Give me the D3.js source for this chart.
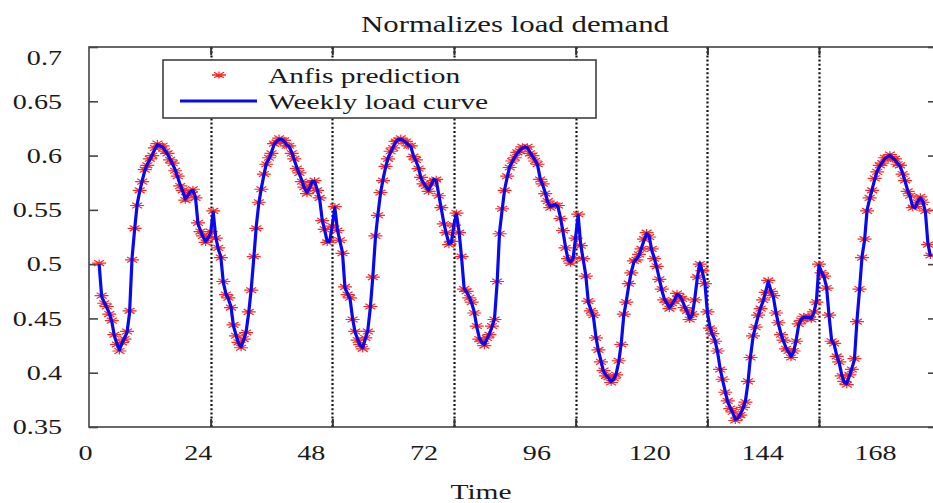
<!DOCTYPE html>
<html><head><meta charset="utf-8">
<script src="https://cdn.jsdelivr.net/npm/d3@7"></script>
<style>
body{margin:0;background:#fff}
svg{display:block}
text{font-family:"Liberation Serif","Times New Roman",serif;fill:#1a1a1a}
</style>
</head><body>
<svg id="c" width="933" height="503"></svg>
<script>
const title = "Normalizes load demand";
const xTitle = "Time";
const seriesNames = ["Anfis prediction", "Weekly load curve"];
const xTickLabels = [0, 24, 48, 72, 96, 120, 144, 168];
const yTicks = [0.35, 0.4, 0.45, 0.5, 0.55, 0.6, 0.65, 0.7];
const dayBoundaries = [24, 48, 72, 96, 122, 144];
const firstHour = 2;
const stepHours = 0.5;

const weeklyLoad = [
0.500,0.470,0.465,0.460,0.455,0.447,0.434,0.427,0.421,0.427,0.432,0.437,0.455,0.506,0.532,0.555,0.567,0.577,0.586,0.592,0.596,0.601,0.606,0.610,
0.609,0.608,0.605,0.601,0.597,0.592,0.587,0.580,0.573,0.567,0.560,0.563,0.567,0.568,0.562,0.537,0.531,0.525,0.521,0.524,0.529,0.548,0.525,0.514,
0.507,0.483,0.473,0.468,0.461,0.443,0.435,0.427,0.424,0.430,0.438,0.455,0.477,0.505,0.535,0.556,0.570,0.582,0.593,0.597,0.603,0.610,0.613,0.615,
0.615,0.613,0.610,0.608,0.603,0.596,0.589,0.583,0.577,0.570,0.566,0.570,0.576,0.576,0.569,0.560,0.541,0.531,0.521,0.521,0.536,0.552,0.532,0.521,
0.511,0.478,0.473,0.468,0.450,0.437,0.431,0.425,0.423,0.431,0.439,0.460,0.489,0.524,0.546,0.565,0.578,0.589,0.598,0.603,0.608,0.612,0.615,0.615,
0.614,0.612,0.610,0.608,0.600,0.595,0.589,0.579,0.575,0.571,0.568,0.573,0.578,0.577,0.564,0.551,0.538,0.528,0.519,0.520,0.537,0.546,0.530,0.506,
0.478,0.474,0.470,0.464,0.456,0.442,0.432,0.428,0.426,0.431,0.436,0.442,0.450,0.482,0.530,0.550,0.569,0.580,0.590,0.594,0.599,0.602,0.605,0.607,
0.608,0.607,0.603,0.599,0.596,0.591,0.579,0.573,0.566,0.557,0.553,0.554,0.555,0.553,0.543,0.530,0.516,0.504,0.502,0.505,0.525,0.545,0.518,0.504,
0.490,0.465,0.458,0.452,0.433,0.420,0.411,0.401,0.398,0.395,0.392,0.394,0.399,0.410,0.427,0.453,0.466,0.481,0.493,0.502,0.505,0.508,0.515,0.522,
0.528,0.526,0.513,0.506,0.497,0.487,0.476,0.468,0.464,0.460,0.463,0.467,0.472,0.471,0.467,0.461,0.456,0.450,0.453,0.468,0.487,0.501,0.493,0.483,
0.455,0.442,0.435,0.430,0.419,0.404,0.393,0.383,0.373,0.368,0.363,0.357,0.358,0.362,0.367,0.374,0.391,0.415,0.433,0.443,0.452,0.460,0.466,0.475,
0.484,0.476,0.470,0.456,0.445,0.436,0.429,0.423,0.419,0.415,0.419,0.430,0.444,0.449,0.451,0.451,0.451,0.450,0.455,0.466,0.499,0.493,0.488,0.479,
0.452,0.430,0.426,0.416,0.409,0.398,0.391,0.390,0.397,0.404,0.412,0.448,0.476,0.507,0.522,0.550,0.560,0.569,0.578,0.586,0.590,0.594,0.597,0.599,
0.600,0.598,0.596,0.593,0.590,0.584,0.576,0.568,0.562,0.553,0.552,0.558,0.561,0.558,0.548,0.519,0.507
];

const anfisPrediction = [
0.501,0.471,0.464,0.461,0.454,0.448,0.435,0.426,0.420,0.428,0.431,0.438,0.457,0.504,0.533,0.554,0.568,0.576,0.587,0.591,0.597,0.600,0.607,0.611,
0.608,0.609,0.604,0.602,0.596,0.593,0.586,0.581,0.572,0.568,0.559,0.564,0.566,0.569,0.561,0.538,0.530,0.526,0.520,0.525,0.530,0.549,0.524,0.515,
0.506,0.484,0.472,0.469,0.460,0.444,0.434,0.428,0.423,0.431,0.437,0.456,0.476,0.507,0.533,0.557,0.569,0.583,0.592,0.598,0.602,0.611,0.612,0.616,
0.614,0.614,0.609,0.609,0.602,0.597,0.588,0.584,0.576,0.571,0.565,0.571,0.575,0.577,0.568,0.561,0.540,0.532,0.520,0.522,0.535,0.553,0.531,0.522,
0.510,0.479,0.472,0.469,0.449,0.438,0.430,0.426,0.422,0.432,0.438,0.461,0.488,0.526,0.545,0.566,0.577,0.590,0.597,0.604,0.607,0.613,0.614,0.616,
0.613,0.613,0.609,0.609,0.599,0.596,0.588,0.580,0.574,0.572,0.567,0.574,0.577,0.578,0.563,0.552,0.537,0.529,0.518,0.521,0.536,0.547,0.529,0.507,
0.477,0.475,0.469,0.465,0.455,0.443,0.431,0.429,0.425,0.432,0.435,0.443,0.449,0.484,0.528,0.551,0.568,0.581,0.589,0.595,0.598,0.603,0.604,0.608,
0.607,0.608,0.602,0.600,0.595,0.592,0.578,0.574,0.565,0.558,0.552,0.555,0.554,0.554,0.542,0.531,0.515,0.505,0.501,0.506,0.524,0.546,0.517,0.505,
0.489,0.466,0.457,0.453,0.432,0.421,0.410,0.402,0.397,0.396,0.391,0.395,0.398,0.411,0.426,0.454,0.465,0.482,0.492,0.503,0.504,0.509,0.514,0.523,
0.529,0.525,0.514,0.505,0.498,0.486,0.477,0.467,0.465,0.459,0.464,0.466,0.473,0.470,0.468,0.460,0.457,0.449,0.454,0.467,0.488,0.500,0.494,0.482,
0.456,0.441,0.436,0.429,0.420,0.403,0.394,0.382,0.374,0.367,0.364,0.356,0.359,0.361,0.368,0.373,0.392,0.414,0.434,0.442,0.453,0.459,0.467,0.474,
0.485,0.475,0.471,0.455,0.446,0.435,0.430,0.422,0.420,0.414,0.420,0.429,0.445,0.448,0.452,0.450,0.452,0.449,0.456,0.465,0.500,0.492,0.489,0.478,
0.453,0.429,0.427,0.415,0.410,0.397,0.392,0.389,0.398,0.403,0.413,0.447,0.477,0.506,0.523,0.549,0.561,0.568,0.579,0.585,0.591,0.593,0.598,0.598,
0.601,0.597,0.597,0.592,0.591,0.583,0.577,0.567,0.563,0.552,0.553,0.557,0.562,0.557,0.549,0.518,0.508
];

const hours = weeklyLoad.map((d, i) => firstHour + i * stepHours);

const SX = 1.34;          // horizontal stretch of the original lettering
const FS = 21;            // tick font size
const svg = d3.select("#c");

const x = d3.scaleLinear().domain([0, 166.5]).range([89, 933]);
const xLab = d3.scaleLinear().domain([0, 168]).range([85, 875]);
const y = d3.scaleLinear().domain([0.35, 0.7]).range([427, 47]);

// dotted day boundaries
svg.append("g").selectAll("line").data(dayBoundaries).join("line")
  .attr("x1", d => Math.round(x(d)) + 0.5).attr("x2", d => Math.round(x(d)) + 0.5)
  .attr("y1", y(0.7)).attr("y2", y(0.35))
  .attr("stroke", "#111").attr("stroke-width", 2.2)
  .attr("stroke-dasharray", "2,2.2");

// frame
svg.append("rect").attr("x", x(0)).attr("y", y(0.7))
  .attr("width", x(166.7) - x(0)).attr("height", y(0.35) - y(0.7))
  .attr("fill", "none").attr("stroke", "#444").attr("stroke-width", 1.6);

// left axis
const gl = svg.append("g").attr("transform", `translate(${x(0)},0)`)
  .call(d3.axisLeft(y).tickValues(yTicks).tickSizeInner(-9).tickSizeOuter(0)
    .tickPadding(27).tickFormat(d3.format("")));
gl.select(".domain").remove();
gl.selectAll(".tick line").attr("stroke", "#444").attr("stroke-width", 1.6);
gl.selectAll(".tick text")
  .attr("x", -27 / SX).attr("transform", `scale(${SX},1)`)
  .attr("y", d => d === 0.7 ? 11 : 0)
  .attr("font-size", FS).attr("font-family", "Liberation Serif").attr("fill", "#1a1a1a");

// right axis ticks
const gr = svg.append("g").attr("transform", `translate(${x(166.7)},0)`)
  .call(d3.axisRight(y).tickValues(yTicks).tickSizeInner(-6).tickSizeOuter(0).tickFormat(""));
gr.select(".domain").remove();
gr.selectAll(".tick line").attr("stroke", "#444").attr("stroke-width", 1.6);

// bottom and top tick marks at day boundaries
const gb = svg.append("g").attr("transform", `translate(0,${y(0.35)})`)
  .call(d3.axisBottom(x).tickValues(dayBoundaries).tickSizeInner(-8).tickSizeOuter(0).tickFormat(""));
gb.select(".domain").remove();
gb.selectAll(".tick line").attr("stroke", "#333").attr("stroke-width", 2);
const gt = svg.append("g").attr("transform", `translate(0,${y(0.7)})`)
  .call(d3.axisTop(x).tickValues(dayBoundaries).tickSizeInner(-8).tickSizeOuter(0).tickFormat(""));
gt.select(".domain").remove();
gt.selectAll(".tick line").attr("stroke", "#333").attr("stroke-width", 2);

// bottom labels
const gbl = svg.append("g").attr("transform", `translate(0,${y(0.35)})`)
  .call(d3.axisBottom(xLab).tickValues(xTickLabels).tickSize(0).tickPadding(18));
gbl.select(".domain").remove();
gbl.selectAll(".tick text").attr("transform", `scale(${SX},1)`)
  .attr("font-size", FS).attr("font-family", "Liberation Serif").attr("fill", "#1a1a1a");

// star marker (MATLAB '*', stretched horizontally like the original)
const star = "M-7,0H7M0,-3.6V3.6M-5,-2.8L5,2.8M-5,2.8L5,-2.8";

// Anfis prediction markers
svg.append("g").selectAll("path").data(anfisPrediction).join("path")
  .attr("transform", (d, i) => `translate(${x(hours[i])},${y(d)})`)
  .attr("d", star).attr("fill", "none")
  .attr("stroke", "#ff2a20").attr("stroke-width", 1.2);

// Weekly load curve
const line = d3.line().x((d, i) => x(hours[i])).y(d => y(d));
svg.append("path").datum(weeklyLoad).attr("d", line)
  .attr("fill", "none").attr("stroke", "#0808f2").attr("stroke-width", 3.2)
  .attr("stroke-linejoin", "round");

// title & x title
svg.append("g").attr("transform", "translate(515,32)")
  .append("text").attr("text-anchor", "middle").attr("transform", `scale(${SX},1)`)
  .attr("font-size", 23).text(title);
svg.append("g").attr("transform", "translate(481,499)")
  .append("text").attr("text-anchor", "middle").attr("transform", `scale(${SX},1)`)
  .attr("font-size", 22).text(xTitle);

// legend
const lg = svg.append("g");
lg.append("rect").attr("x", 163).attr("y", 60).attr("width", 433).attr("height", 58)
  .attr("fill", "#fff").attr("stroke", "#333").attr("stroke-width", 1.5);
lg.append("path").attr("transform", "translate(219,75)").attr("d", star)
  .attr("fill", "none").attr("stroke", "#ff2a20").attr("stroke-width", 1.3);
lg.append("line").attr("x1", 180).attr("x2", 257).attr("y1", 101).attr("y2", 101)
  .attr("stroke", "#0808f2").attr("stroke-width", 3.2);
[83, 109].forEach((by, i) => {
  lg.append("g").attr("transform", `translate(268,${by})`)
    .append("text").attr("transform", `scale(${SX},1)`)
    .attr("font-size", 22).text(seriesNames[i]);
});
</script>
</body></html>
